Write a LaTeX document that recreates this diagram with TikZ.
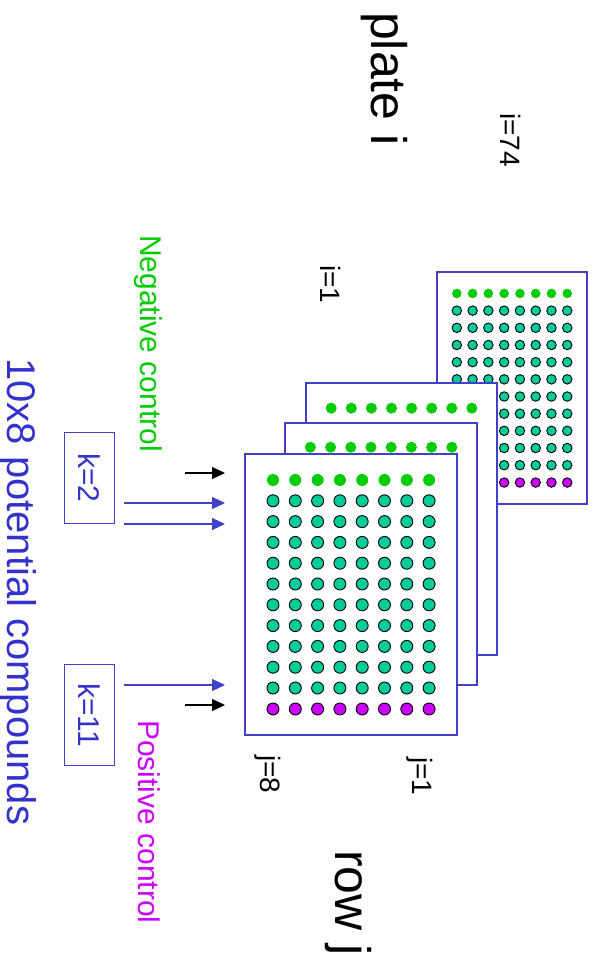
\documentclass[tikz,border=0pt]{standalone}
\usepackage{fontspec}
\setmainfont{Liberation Sans}
\usetikzlibrary{arrows.meta}
\definecolor{plateblue}{RGB}{64,64,204}
\definecolor{textblue}{RGB}{51,51,204}
\definecolor{negctrl}{RGB}{0,204,0}
\definecolor{posctrl}{RGB}{204,0,255}
\definecolor{compound}{RGB}{0,204,153}

\tikzset{
  plate/.style={draw=plateblue, line width=1.4pt, fill=white},
  well/.style={circle, draw=black, line width=0.9pt, inner sep=0pt},
  vlabel/.style={rotate=-90, anchor=base west, inner sep=0pt},
  kbox/.style={draw=plateblue, line width=1pt, rotate=-90, inner sep=0pt, text=textblue},
  feed/.style={-{Triangle[length=13pt,width=12pt]}, line width=1.1pt},
}

% #1 corner, #2 x scale, #3 y scale, #4 well size, #5 name
\newcommand{\wellplate}[5]{%
  \begin{scope}[shift={#1}, xscale=#2, yscale=#3]
    \draw[plate] (0,0) rectangle (212,281);
    \foreach \c in {0,...,7} {
      \node[well, draw=none, fill=negctrl, minimum size=#4] (#5n\c) at (28+22.3*\c,26) {};
      \foreach \r in {1,...,10}
        \node[well, fill=compound, minimum size=#4] (#5w\r\c) at (28+22.3*\c,26+20.8*\r) {};
      \node[well, fill=posctrl, minimum size=#4] (#5p\c) at (28+22.3*\c,255) {};
    }
  \end{scope}}

\begin{document}
\begin{tikzpicture}[x=1pt, y=-1pt]
  \useasboundingbox (0,0) rectangle (602,958);

  \wellplate{(437,272)}{0.7075}{0.8256}{9.5pt}{back}
  \wellplate{(306,383)}{0.901}{0.968}{11pt}{third}
  \wellplate{(285,423)}{0.906}{0.932}{11pt}{second}
  \wellplate{(245,454)}{1}{1}{12pt}{front}

  \node[vlabel, font=\fontsize{50}{60}\selectfont] (platei) at (371,12) {plate i};
  \node[vlabel, font=\fontsize{28}{34}\selectfont] (ilast) at (500,113) {i=74};
  \node[vlabel, font=\fontsize{28}{34}\selectfont] (ifirst) at (320,265) {i=1};
  \node[vlabel, font=\fontsize{30}{36}\selectfont, text=negctrl] (negtxt) at (140,235) {Negative control};
  \node[vlabel, font=\fontsize{30}{36}\selectfont, text=posctrl] (postxt) at (138,720) {Positive control};
  \node[vlabel, font=\fontsize{40}{48}\selectfont, text=textblue] (cmpdtxt) at (8,358) {10x8 potential compounds};
  \node[vlabel, font=\fontsize{28}{34}\selectfont] (jlast) at (260,755) {j=8};
  \node[vlabel, font=\fontsize{28}{34}\selectfont] (jfirst) at (412,757) {j=1};
  \node[vlabel, font=\fontsize{50}{60}\selectfont] (rowj) at (335,850) {row j};

  \node[kbox, minimum width=91pt, minimum height=50pt, font=\fontsize{30}{36}\selectfont] (ktwo) at (89,478) {k=2};
  \node[kbox, minimum width=101pt, minimum height=50pt, font=\fontsize{30}{36}\selectfont] (keleven) at (89,715) {k=11};

  \coordinate (negA) at (185,473);  \coordinate (negB) at (225,473);
  \coordinate (kaA) at (124,503);   \coordinate (kaB) at (225,503);
  \coordinate (kbA) at (124,524);   \coordinate (kbB) at (225,524);
  \coordinate (kcA) at (124,685);   \coordinate (kcB) at (225,685);
  \coordinate (posA) at (185,705);  \coordinate (posB) at (225,705);

  \draw[feed] (negA) -- (negB);
  \draw[feed, plateblue] (kaA) -- (kaB);
  \draw[feed, plateblue] (kbA) -- (kbB);
  \draw[feed, plateblue] (kcA) -- (kcB);
  \draw[feed] (posA) -- (posB);
\end{tikzpicture}
\end{document}
